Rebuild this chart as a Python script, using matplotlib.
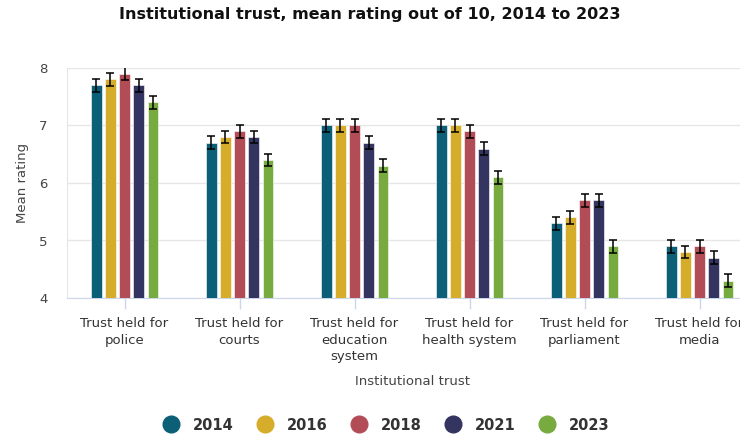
import numpy as np
import matplotlib
matplotlib.use('Agg')
import matplotlib.pyplot as plt
from matplotlib.lines import Line2D

# data
categories = ['Trust held for\npolice', 'Trust held for\ncourts', 'Trust held for\neducation\nsystem',
              'Trust held for\nhealth system', 'Trust held for\nparliament', 'Trust held for\nmedia']
years = ['2014', '2016', '2018', '2021', '2023']
v2014 = [7.7, 6.7, 7.0, 7.0, 5.3, 4.9]
v2016 = [7.8, 6.8, 7.0, 7.0, 5.4, 4.8]
v2018 = [7.9, 6.9, 7.0, 6.9, 5.7, 4.9]
v2021 = [7.7, 6.8, 6.7, 6.6, 5.7, 4.7]
v2023 = [7.4, 6.4, 6.3, 6.1, 4.9, 4.3]
err = [0.11, 0.11, 0.11, 0.11, 0.11]
colors = ['#0b5f76', '#d6ad2b', '#b24d57', '#33345f', '#77aa3f']

series = [v2014, v2016, v2018, v2021, v2023]

fig = plt.figure(figsize=(7.4, 4.4), dpi=100)
# axes run off the right edge like in the original
ax = fig.add_axes([67/740, 1-298/440, 690/740, 230/440])

x = np.arange(len(categories))
pitch = 0.122
width = 0.088
for i, vals in enumerate(series):
    pos = x + (i - 2) * pitch
    ax.bar(pos, np.array(vals) - 4, bottom=4, width=width, color=colors[i],
           edgecolor='white', linewidth=0.4, zorder=3)
    ax.errorbar(pos, vals, yerr=err[i], fmt='none', ecolor='black',
                elinewidth=1.1, capsize=3, capthick=1.1, zorder=4)

ax.set_xlim(-0.5, len(categories) - 0.5)
ax.set_ylim(4, 8)
ax.set_yticks([4, 5, 6, 7, 8])
ax.set_xticks(x)
ax.set_xticklabels(categories, fontsize=9.5, color='#333333', linespacing=1.35)
ax.tick_params(axis='y', length=0, labelsize=9.5, labelcolor='#444444', pad=14)
ax.tick_params(axis='x', length=8, color='#ccd6eb', width=1, pad=6)
ax.grid(axis='y', color='#e6e6e6', linewidth=1, zorder=0)
for s in ['top', 'right']:
    ax.spines[s].set_visible(False)
ax.spines['left'].set_color('#e6e6e6')
ax.spines['bottom'].set_color('#ccd6eb')

ax.set_ylabel('Mean rating', fontsize=9.5, color='#444444', labelpad=7)
ax.set_xlabel('Institutional trust', fontsize=9.5, color='#444444', labelpad=8)

fig.text(0.5, 1-14/440, 'Institutional trust, mean rating out of 10, 2014 to 2023',
         ha='center', va='center', fontsize=11.5, fontweight='bold', color='#111111')

handles = [Line2D([0], [0], marker='o', linestyle='none', markersize=12,
                  markerfacecolor=c, markeredgecolor=c) for c in colors]
leg = fig.legend(handles, years, loc='center', bbox_to_anchor=(0.517, 1-425/440),
                 ncol=5, frameon=False, handletextpad=0.5, columnspacing=1.15,
                 prop={'weight': 'bold', 'size': 10.5})
for t in leg.get_texts():
    t.set_color('#333333')

fig.savefig('out.png', dpi=100)
